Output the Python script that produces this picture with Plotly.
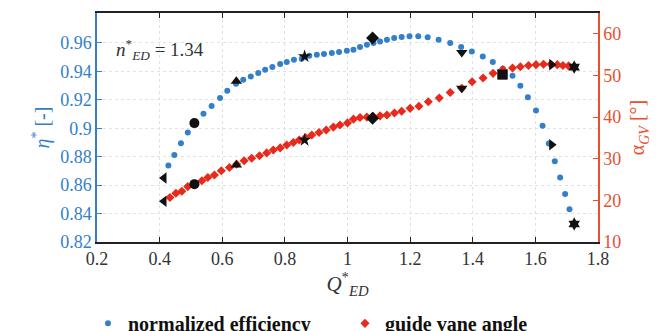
import plotly.graph_objects as go

# ---- data ----
q_eff = [0.428, 0.447, 0.468, 0.490, 0.515, 0.540, 0.566, 0.593, 0.616, 0.644,
         0.667, 0.691, 0.715, 0.737, 0.760, 0.785, 0.806, 0.829, 0.854, 0.878,
         0.902, 0.925, 0.950, 0.973, 0.998, 1.019, 1.040, 1.062, 1.083, 1.104,
         1.126, 1.149, 1.173, 1.198, 1.226, 1.256, 1.291, 1.328, 1.363, 1.397,
         1.432, 1.464, 1.496, 1.527, 1.552, 1.576, 1.602, 1.623, 1.643, 1.662,
         1.679, 1.695, 1.709]
eta = [0.8737, 0.8812, 0.8895, 0.8970, 0.9036, 0.9101, 0.9157, 0.9212, 0.9263, 0.9312,
       0.9340, 0.9364, 0.9388, 0.9411, 0.9430, 0.9451, 0.9465, 0.9481, 0.9488, 0.9509,
       0.9516, 0.9521, 0.9528, 0.9536, 0.9545, 0.9552, 0.9571, 0.9587, 0.9599, 0.9610,
       0.9622, 0.9634, 0.9641, 0.9647, 0.9647, 0.9640, 0.9622, 0.9599, 0.9571, 0.9540,
       0.9505, 0.9465, 0.9418, 0.9369, 0.9298, 0.9217, 0.9124, 0.9017, 0.8893, 0.8768,
       0.8653, 0.8538, 0.8430]

q_gv = [0.433, 0.452, 0.471, 0.490, 0.513, 0.535, 0.554, 0.575, 0.597, 0.623,
        0.646, 0.670, 0.694, 0.719, 0.742, 0.763, 0.785, 0.806, 0.827, 0.846,
        0.866, 0.886, 0.909, 0.932, 0.955, 0.976, 1.000, 1.019, 1.040, 1.062,
        1.082, 1.104, 1.126, 1.150, 1.173, 1.200, 1.228, 1.258, 1.293, 1.328,
        1.365, 1.398, 1.433, 1.465, 1.496, 1.527, 1.552, 1.578, 1.602, 1.626,
        1.649, 1.670, 1.688, 1.706, 1.724]
alpha = [20.7, 21.7, 22.2, 23.3, 24.0, 24.7, 25.5, 26.1, 27.1, 27.9,
         28.7, 29.5, 30.1, 30.7, 31.4, 32.1, 32.6, 33.3, 33.9, 34.5,
         35.1, 35.7, 36.3, 36.9, 37.6, 38.1, 38.6, 39.5, 39.9, 40.0,
         40.2, 40.3, 40.5, 41.0, 41.4, 42.1, 42.6, 43.7, 44.6, 45.9,
         46.9, 48.5, 49.4, 50.5, 51.4, 51.8, 52.1, 52.4, 52.6, 52.7,
         52.7, 52.6, 52.4, 52.3, 52.1]

# highlighted operating points
q_op = [0.414, 0.511, 0.645, 0.863, 1.080, 1.365, 1.495, 1.652, 1.724]
eta_op = [0.865, 0.9036, 0.933, 0.9505, 0.9634, 0.9533, 0.938, 0.8883, 0.8327]
alpha_op = [19.8, 23.9, 28.5, 34.5, 39.7, 46.9, 50.2, 52.6, 52.0]

x_ticks = [0.2, 0.4, 0.6, 0.8, 1.0, 1.2, 1.4, 1.6, 1.8]
x_ticklabels = ["0.2", "0.4", "0.6", "0.8", "1", "1.2", "1.4", "1.6", "1.8"]
eta_ticks = [0.82, 0.84, 0.86, 0.88, 0.90, 0.92, 0.94, 0.96]
eta_ticklabels = ["0.82", "0.84", "0.86", "0.88", "0.9", "0.92", "0.94", "0.96"]
alpha_ticks = [10, 20, 30, 40, 50, 60]

# ---- styles ----
op_symbols = ["triangle-left", "circle", "triangle-up", "star", "diamond",
              "triangle-down", "square", "triangle-right", "hexagram"]
BLUE = "rgb(52,128,200)"
RED = "rgb(232,42,28)"
RED_AX = "rgb(232,80,48)"
FONT = "Liberation Serif, Times New Roman, serif"
GRID = "#e2e2e2"

fig = go.Figure()
fig.add_trace(go.Scatter(x=q_eff, y=eta, mode="markers", name="normalized efficiency",
                         marker=dict(color=BLUE, size=6, symbol="circle"), yaxis="y"))
fig.add_trace(go.Scatter(x=q_gv, y=alpha, mode="markers", name="guide vane angle",
                         marker=dict(color=RED, size=7, symbol="diamond"), yaxis="y2"))
fig.add_trace(go.Scatter(x=q_op, y=eta_op, mode="markers", showlegend=False,
                         marker=dict(color="#111111", size=10, symbol=op_symbols), yaxis="y"))
fig.add_trace(go.Scatter(x=q_op, y=alpha_op, mode="markers", showlegend=False,
                         marker=dict(color="#111111", size=10, symbol=op_symbols), yaxis="y2"))

fig.update_layout(
    width=665, height=331,
    margin=dict(l=97, r=67, t=13, b=89, autoexpand=False),
    paper_bgcolor="white", plot_bgcolor="white",
    font=dict(family=FONT, size=18, color="#222"),
    showlegend=True,
    legend=dict(orientation="h", x=-0.018, xanchor="left", y=-0.27, yanchor="top",
                font=dict(family=FONT, size=20, color="#111", weight="bold"),
                entrywidth=212, entrywidthmode="pixels", itemsizing="trace",
                bgcolor="rgba(0,0,0,0)"),
    xaxis=dict(range=[0.2, 1.8], tickvals=x_ticks, ticktext=x_ticklabels,
               showline=True, linecolor="#222", linewidth=1.5, mirror="ticks",
               ticks="inside", ticklen=5, tickcolor="#222",
               showgrid=True, gridcolor=GRID, griddash="dot", gridwidth=1,
               zeroline=False, tickfont=dict(family=FONT, size=18, color="#333"),
               title=dict(text="<i>Q</i><sup>*</sup><sub><i>ED</i></sub>",
                          font=dict(family=FONT, size=21, color="#333"), standoff=6)),
    yaxis=dict(range=[0.82, 0.981], tickvals=eta_ticks, ticktext=eta_ticklabels,
               showline=True, linecolor=BLUE, linewidth=1.5,
               ticks="inside", ticklen=5, tickcolor=BLUE,
               showgrid=True, gridcolor=GRID, griddash="dot", gridwidth=1,
               zeroline=False, tickfont=dict(family=FONT, size=18, color=BLUE),
               title=dict(text="<i>η</i><sup>*</sup> [-]",
                          font=dict(family=FONT, size=20, color=BLUE), standoff=5)),
    yaxis2=dict(range=[10, 65], tickvals=alpha_ticks, overlaying="y", side="right",
                showline=True, linecolor=RED_AX, linewidth=1.5,
                ticks="inside", ticklen=5, tickcolor=RED_AX,
                showgrid=False, zeroline=False,
                tickfont=dict(family=FONT, size=18, color=RED_AX),
                title=dict(text="α<sub><i>GV</i></sub> [°]",
                           font=dict(family=FONT, size=20, color=RED_AX), standoff=10)),
)

fig.add_annotation(x=0.125, y=0.84, xref="paper", yref="paper", xanchor="center",
                   yanchor="middle", showarrow=False,
                   text="<i>n</i><sup>*</sup><sub><i>ED</i></sub> = 1.34",
                   font=dict(family=FONT, size=19, color="#333"))
fig.add_annotation(x=1.06, y=1.035, xref="x", yref="paper", xanchor="center",
                   yanchor="bottom", showarrow=False,
                   text="<i>n</i><sup>*</sup><sub><i>ED</i></sub>",
                   font=dict(family=FONT, size=20, color="#333"))

fig.write_html("out.html")
